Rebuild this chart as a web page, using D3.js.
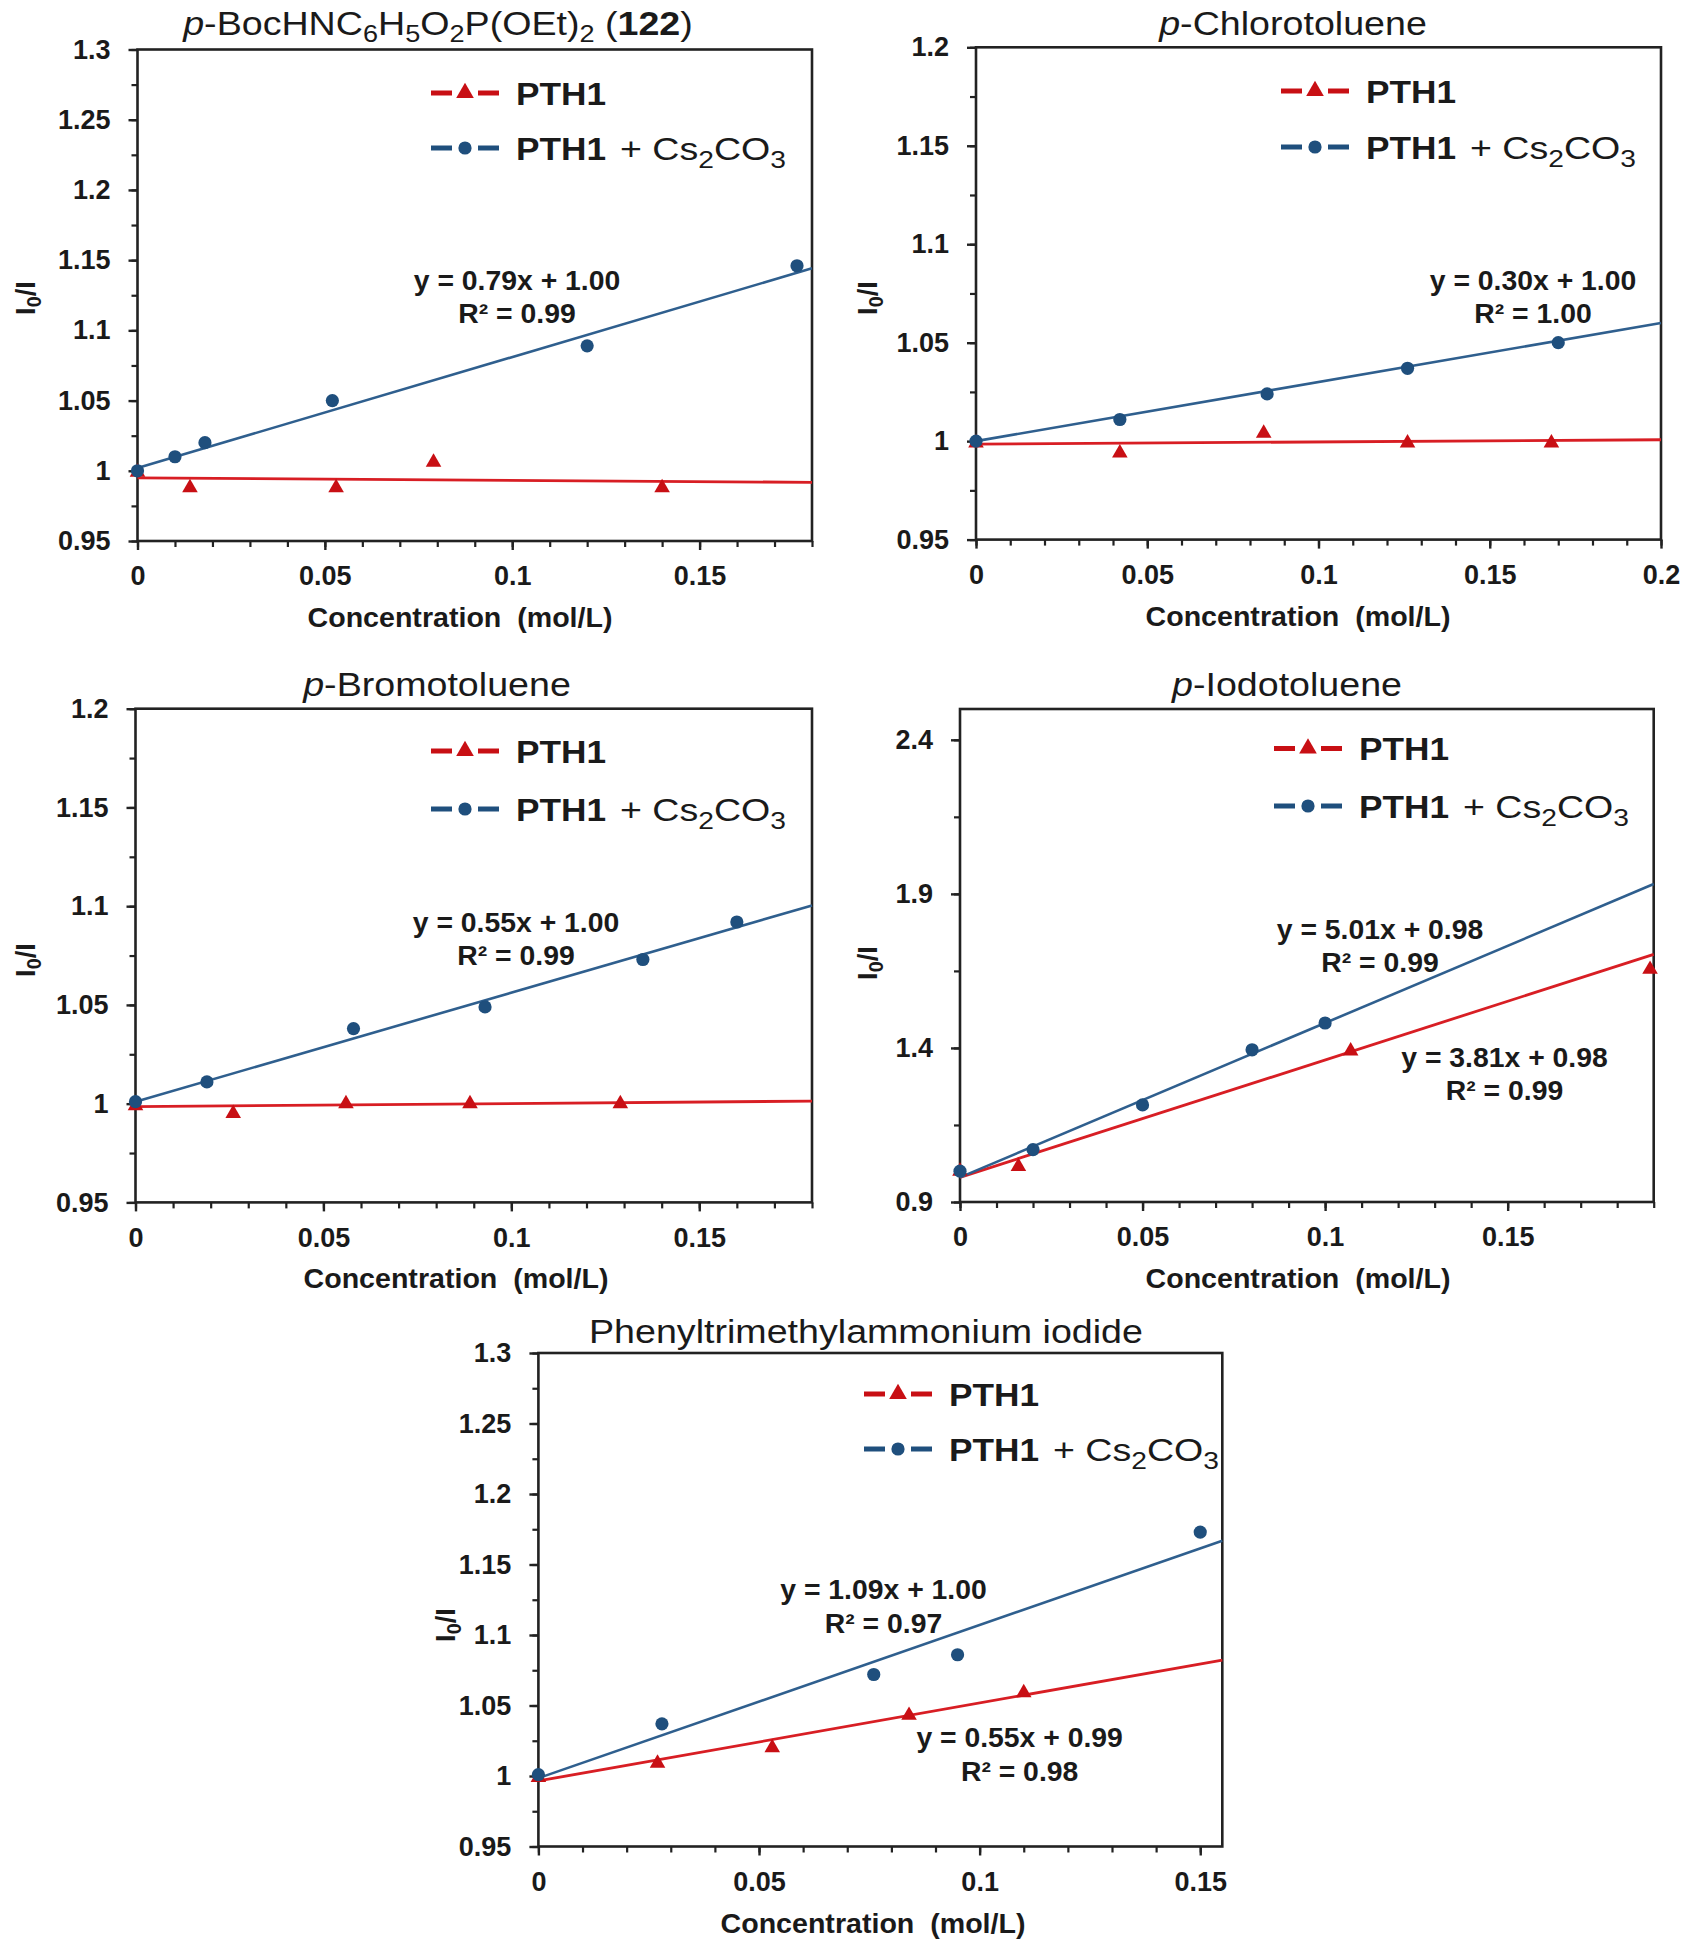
<!DOCTYPE html>
<html><head><meta charset="utf-8">
<script src="https://cdn.jsdelivr.net/npm/d3@7"></script>
<style>
body{margin:0;background:#fff}
svg{display:block}
text{font-family:"Liberation Sans",Arial,Helvetica,sans-serif;fill:#1a1a1a}
</style>
</head><body>
<svg id="c" width="1691" height="1950"></svg>
<script>
// ---------------- DATA ----------------
// Panel 1: p-BocHNC6H5O2P(OEt)2 (122)
const p1XTicks = [0, 0.05, 0.1, 0.15];
const p1YTicks = [0.95, 1, 1.05, 1.1, 1.15, 1.2, 1.25, 1.3];
const p1RedX  = [0, 0.014, 0.053, 0.079, 0.140];
const p1RedY  = [0.999, 0.988, 0.988, 1.006, 0.988];
const p1BlueX = [0, 0.010, 0.018, 0.052, 0.120, 0.176];
const p1BlueY = [1.000, 1.010, 1.020, 1.050, 1.089, 1.146];
const p1RedFit  = [-0.018, 0.995];   // [slope, intercept]
const p1BlueFit = [0.79, 1.002];
const p1BlueEq  = ["y = 0.79x + 1.00", "R² = 0.99"];

// Panel 2: p-Chlorotoluene
const p2XTicks = [0, 0.05, 0.1, 0.15, 0.2];
const p2YTicks = [0.95, 1, 1.05, 1.1, 1.15, 1.2];
const p2RedX  = [0, 0.042, 0.084, 0.126, 0.168];
const p2RedY  = [0.999, 0.994, 1.004, 0.999, 0.999];
const p2BlueX = [0, 0.042, 0.085, 0.126, 0.170];
const p2BlueY = [1.000, 1.011, 1.024, 1.037, 1.050];
const p2RedFit  = [0.011, 0.9985];
const p2BlueFit = [0.30, 1.000];
const p2BlueEq  = ["y = 0.30x + 1.00", "R² = 1.00"];

// Panel 3: p-Bromotoluene
const p3XTicks = [0, 0.05, 0.1, 0.15];
const p3YTicks = [0.95, 1, 1.05, 1.1, 1.15, 1.2];
const p3RedX  = [0, 0.026, 0.056, 0.089, 0.129];
const p3RedY  = [0.999, 0.995, 1.000, 1.000, 1.000];
const p3BlueX = [0, 0.019, 0.058, 0.093, 0.135, 0.160];
const p3BlueY = [1.001, 1.011, 1.038, 1.049, 1.073, 1.092];
const p3RedFit  = [0.0155, 0.9985];
const p3BlueFit = [0.552, 1.001];
const p3BlueEq  = ["y = 0.55x + 1.00", "R² = 0.99"];

// Panel 4: p-Iodotoluene
const p4XTicks = [0, 0.05, 0.1, 0.15];
const p4YTicks = [0.9, 1.4, 1.9, 2.4];
const p4RedX  = [0, 0.016, 0.107, 0.189];
const p4RedY  = [1.000, 1.015, 1.390, 1.655];
const p4BlueX = [0, 0.020, 0.050, 0.080, 0.100];
const p4BlueY = [1.000, 1.070, 1.215, 1.394, 1.481];
const p4RedFit  = [3.81, 0.98];
const p4BlueFit = [5.01, 0.98];
const p4BlueEq  = ["y = 5.01x + 0.98", "R² = 0.99"];
const p4RedEq   = ["y = 3.81x + 0.98", "R² = 0.99"];

// Panel 5: Phenyltrimethylammonium iodide
const p5XTicks = [0, 0.05, 0.1, 0.15];
const p5YTicks = [0.95, 1, 1.05, 1.1, 1.15, 1.2, 1.25, 1.3];
const p5RedX  = [0, 0.027, 0.053, 0.084, 0.110];
const p5RedY  = [0.999, 1.009, 1.020, 1.043, 1.059];
const p5BlueX = [0, 0.028, 0.076, 0.095, 0.150];
const p5BlueY = [1.001, 1.037, 1.072, 1.086, 1.173];
const p5RedFit  = [0.553, 0.9965];
const p5BlueFit = [1.086, 0.9985];
const p5BlueEq  = ["y = 1.09x + 1.00", "R² = 0.97"];
const p5RedEq   = ["y = 0.55x + 0.99", "R² = 0.98"];

const seriesNames = ["PTH1", "PTH1 + Cs2CO3"];
const xAxisTitle = "Concentration  (mol/L)";

// ---------------- STYLE ----------------
const RED_LINE = "#d81e24", RED_MARK = "#c80f14";
const BLUE_LINE = "#2f5f8e", BLUE_MARK = "#1f4f7d";
const AXIS = "#222";
const FONT_TICK = 27, FONT_EQ = 27, FONT_LEG = 32, FONT_AX = 27.5, FONT_TITLE = 33;
const SX_TITLE = 1.14, SX_EQ = 1.05, SX_AX = 1.04;

const svg = d3.select("#c");
svg.append("rect").attr("width", 1691).attr("height", 1950).attr("fill", "#fff");

const fmt = d3.format("~g");

function addTitle(g, cx, by, parts) {
  const t = g.append("text").attr("transform", `translate(${cx},${by}) scale(${SX_TITLE},1)`)
    .attr("text-anchor", "middle").attr("font-size", FONT_TITLE);
  let shifted = false;
  parts.forEach(p => {
    const ts = t.append("tspan").text(p.t);
    if (p.i) ts.attr("font-style", "italic");
    if (p.b) ts.attr("font-weight", "bold");
    if (p.sub) { ts.attr("font-size", FONT_TITLE * 0.72).attr("dy", shifted ? 0 : 7); shifted = true; }
    else if (shifted) { ts.attr("dy", -7); shifted = false; }
  });
}

function drawPanel(c) {
  const g = svg.append("g");
  const x = d3.scaleLinear().domain(c.xDomain).range([c.left, c.right]);
  const y = d3.scaleLinear().domain(c.yDomain).range([c.bottom, c.top]);

  // minor ticks
  const xMinor = d3.range(c.xDomain[0], c.xDomain[1] + 1e-9, 0.01);
  const yMinor = d3.range(c.yDomain[0], c.yDomain[1] + 1e-9, c.yMinorStep);
  g.append("g").attr("transform", `translate(0,${c.bottom})`)
    .call(d3.axisBottom(x).tickValues(xMinor).tickSize(6).tickSizeOuter(0).tickFormat(""))
    .call(s => { s.select(".domain").remove(); s.selectAll("line").attr("stroke", AXIS).attr("stroke-width", 2.2); });
  g.append("g").attr("transform", `translate(${c.left},0)`)
    .call(d3.axisLeft(y).tickValues(yMinor).tickSize(6).tickSizeOuter(0).tickFormat(""))
    .call(s => { s.select(".domain").remove(); s.selectAll("line").attr("stroke", AXIS).attr("stroke-width", 2.2); });

  // major ticks + labels
  g.append("g").attr("transform", `translate(0,${c.bottom})`)
    .call(d3.axisBottom(x).tickValues(c.xTicks).tickSize(9).tickPadding(16).tickSizeOuter(0).tickFormat(fmt))
    .call(s => {
      s.select(".domain").remove();
      s.selectAll("line").attr("stroke", AXIS).attr("stroke-width", 2.4);
      s.selectAll("text").attr("font-size", FONT_TICK).attr("font-weight", "bold")
        .attr("font-family", "'Liberation Sans',Arial,sans-serif").attr("fill", "#1a1a1a");
    });
  g.append("g").attr("transform", `translate(${c.left},0)`)
    .call(d3.axisLeft(y).tickValues(c.yTicks).tickSize(9).tickPadding(18).tickSizeOuter(0).tickFormat(fmt))
    .call(s => {
      s.select(".domain").remove();
      s.selectAll("line").attr("stroke", AXIS).attr("stroke-width", 2.4);
      s.selectAll("text").attr("font-size", FONT_TICK).attr("font-weight", "bold")
        .attr("font-family", "'Liberation Sans',Arial,sans-serif").attr("fill", "#1a1a1a");
    });

  // plot box
  g.append("rect").attr("x", c.left).attr("y", c.top)
    .attr("width", c.right - c.left).attr("height", c.bottom - c.top)
    .attr("fill", "none").attr("stroke", AXIS).attr("stroke-width", 2.6);

  // trend lines
  const line = d3.line().x(d => x(d[0])).y(d => y(d[1]));
  const fitPts = f => c.xDomain.map(v => [v, f[0] * v + f[1]]);
  g.append("path").attr("d", line(fitPts(c.redFit))).attr("fill", "none")
    .attr("stroke", RED_LINE).attr("stroke-width", 2.8);
  g.append("path").attr("d", line(fitPts(c.blueFit))).attr("fill", "none")
    .attr("stroke", BLUE_LINE).attr("stroke-width", 2.6);

  // markers
  const tri = d3.symbol().type(d3.symbolTriangle).size(105);
  const circ = d3.symbol().type(d3.symbolCircle).size(Math.PI * 6.6 * 6.6);
  g.append("g").selectAll("path").data(d3.zip(c.redX, c.redY)).join("path")
    .attr("d", tri).attr("fill", RED_MARK)
    .attr("transform", d => `translate(${x(d[0])},${y(d[1])})`);
  g.append("g").selectAll("path").data(d3.zip(c.blueX, c.blueY)).join("path")
    .attr("d", circ).attr("fill", BLUE_MARK)
    .attr("transform", d => `translate(${x(d[0])},${y(d[1])})`);

  // equations
  const eq = (lines, cx, cy1, cy2) => {
    [cy1, cy2].forEach((cy, i) => {
      g.append("text").attr("transform", `translate(${cx},${cy + 9.5}) scale(${SX_EQ},1)`)
        .attr("text-anchor", "middle").attr("font-size", FONT_EQ).attr("font-weight", "bold")
        .attr("fill", "#222").text(lines[i]);
    });
  };
  if (c.blueEq) eq(c.blueEq, ...c.blueEqPos);
  if (c.redEq) eq(c.redEq, ...c.redEqPos);

  // legend
  const lx = c.legX;
  const legTri = d3.symbol().type(d3.symbolTriangle).size(135);
  const legCirc = d3.symbol().type(d3.symbolCircle).size(Math.PI * 6.6 * 6.6);
  [[c.legY[0], RED_MARK, legTri], [c.legY[1], BLUE_MARK, legCirc]].forEach(([ly, col, sym], i) => {
    g.append("line").attr("x1", lx).attr("x2", lx + 21).attr("y1", ly).attr("y2", ly)
      .attr("stroke", col).attr("stroke-width", 5);
    g.append("line").attr("x1", lx + 47).attr("x2", lx + 68).attr("y1", ly).attr("y2", ly)
      .attr("stroke", col).attr("stroke-width", 5);
    g.append("path").attr("d", sym).attr("fill", col).attr("transform", `translate(${lx + 34},${ly})`);
    g.append("text").attr("x", lx + 85).attr("y", ly + 11.5).attr("font-size", FONT_LEG)
      .attr("font-weight", "bold").attr("textLength", 90).attr("lengthAdjust", "spacingAndGlyphs")
      .text(seriesNames[0]);
    if (i === 1) {
      // " + Cs2CO3"
      const t = g.append("text").attr("x", lx + 189).attr("y", ly + 11.5).attr("font-size", FONT_LEG)
        .attr("textLength", 166).attr("lengthAdjust", "spacingAndGlyphs");
      t.append("tspan").text("+ Cs");
      t.append("tspan").attr("font-size", FONT_LEG * 0.75).attr("dy", 8).text("2");
      t.append("tspan").attr("dy", -8).text("CO");
      t.append("tspan").attr("font-size", FONT_LEG * 0.75).attr("dy", 8).text("3");
    }
  });

  // axis titles
  g.append("text").attr("transform", `translate(${c.xTitleX},${c.bottom + 86}) scale(${SX_AX},1)`)
    .attr("text-anchor", "middle").attr("font-size", FONT_AX).attr("font-weight", "bold")
    .style("white-space", "pre").text(xAxisTitle);
  const yt = g.append("text").attr("transform", `translate(${c.yTitleX},${c.yTitleY}) rotate(-90)`)
    .attr("text-anchor", "middle").attr("dy", "0.36em").attr("font-size", FONT_AX).attr("font-weight", "bold");
  yt.append("tspan").text("I");
  yt.append("tspan").attr("font-size", FONT_AX * 0.72).attr("dy", 6).text("0");
  yt.append("tspan").attr("dy", -6).text("/I");

  addTitle(g, c.titleX, c.titleY, c.title);
}

drawPanel({
  xDomain: [0, 0.18], yDomain: [0.95, 1.3], yMinorStep: 0.025,
  xTicks: p1XTicks, yTicks: p1YTicks,
  redX: p1RedX, redY: p1RedY, blueX: p1BlueX, blueY: p1BlueY,
  redFit: p1RedFit, blueFit: p1BlueFit, blueEq: p1BlueEq, blueEqPos: [517, 280, 313],
  left: 137.5, right: 812, top: 49.5, bottom: 541,
  legX: 431, legY: [93, 148], xTitleX: 460, yTitleX: 25, yTitleY: 298,
  titleX: 438, titleY: 35,
  title: [{t: "p", i: 1}, {t: "-BocHNC"}, {t: "6", sub: 1}, {t: "H"}, {t: "5", sub: 1}, {t: "O"}, {t: "2", sub: 1},
          {t: "P(OEt)"}, {t: "2", sub: 1}, {t: " ("}, {t: "122", b: 1}, {t: ")"}]
});
drawPanel({
  xDomain: [0, 0.2], yDomain: [0.95, 1.2], yMinorStep: 0.025,
  xTicks: p2XTicks, yTicks: p2YTicks,
  redX: p2RedX, redY: p2RedY, blueX: p2BlueX, blueY: p2BlueY,
  redFit: p2RedFit, blueFit: p2BlueFit, blueEq: p2BlueEq, blueEqPos: [1533, 280, 313],
  left: 976, right: 1661, top: 47.3, bottom: 539.6,
  legX: 1281, legY: [91, 147], xTitleX: 1298, yTitleX: 867, yTitleY: 298,
  titleX: 1293, titleY: 35,
  title: [{t: "p", i: 1}, {t: "-Chlorotoluene"}]
});
drawPanel({
  xDomain: [0, 0.18], yDomain: [0.95, 1.2], yMinorStep: 0.025,
  xTicks: p3XTicks, yTicks: p3YTicks,
  redX: p3RedX, redY: p3RedY, blueX: p3BlueX, blueY: p3BlueY,
  redFit: p3RedFit, blueFit: p3BlueFit, blueEq: p3BlueEq, blueEqPos: [516, 922, 955],
  left: 135.5, right: 812, top: 708.7, bottom: 1202.4,
  legX: 431, legY: [751, 809], xTitleX: 456, yTitleX: 25, yTitleY: 960,
  titleX: 437, titleY: 696,
  title: [{t: "p", i: 1}, {t: "-Bromotoluene"}]
});
drawPanel({
  xDomain: [0, 0.19], yDomain: [0.9, 2.5], yMinorStep: 0.25,
  xTicks: p4XTicks, yTicks: p4YTicks,
  redX: p4RedX, redY: p4RedY, blueX: p4BlueX, blueY: p4BlueY,
  redFit: p4RedFit, blueFit: p4BlueFit,
  blueEq: p4BlueEq, blueEqPos: [1380, 929, 962],
  redEq: p4RedEq, redEqPos: [1504.5, 1057, 1090],
  left: 960, right: 1653.7, top: 709, bottom: 1202,
  legX: 1274, legY: [748.5, 806], xTitleX: 1298, yTitleX: 867, yTitleY: 963,
  titleX: 1287, titleY: 696,
  title: [{t: "p", i: 1}, {t: "-Iodotoluene"}]
});
drawPanel({
  xDomain: [0, 0.155], yDomain: [0.95, 1.3], yMinorStep: 0.025,
  xTicks: p5XTicks, yTicks: p5YTicks,
  redX: p5RedX, redY: p5RedY, blueX: p5BlueX, blueY: p5BlueY,
  redFit: p5RedFit, blueFit: p5BlueFit,
  blueEq: p5BlueEq, blueEqPos: [883.5, 1589, 1623],
  redEq: p5RedEq, redEqPos: [1019.6, 1737, 1771],
  left: 538.4, right: 1222.3, top: 1353, bottom: 1846.5,
  legX: 864, legY: [1394, 1449], xTitleX: 873, yTitleX: 445, yTitleY: 1625,
  titleX: 866, titleY: 1343,
  title: [{t: "Phenyltrimethylammonium iodide"}]
});
</script>
</body></html>
